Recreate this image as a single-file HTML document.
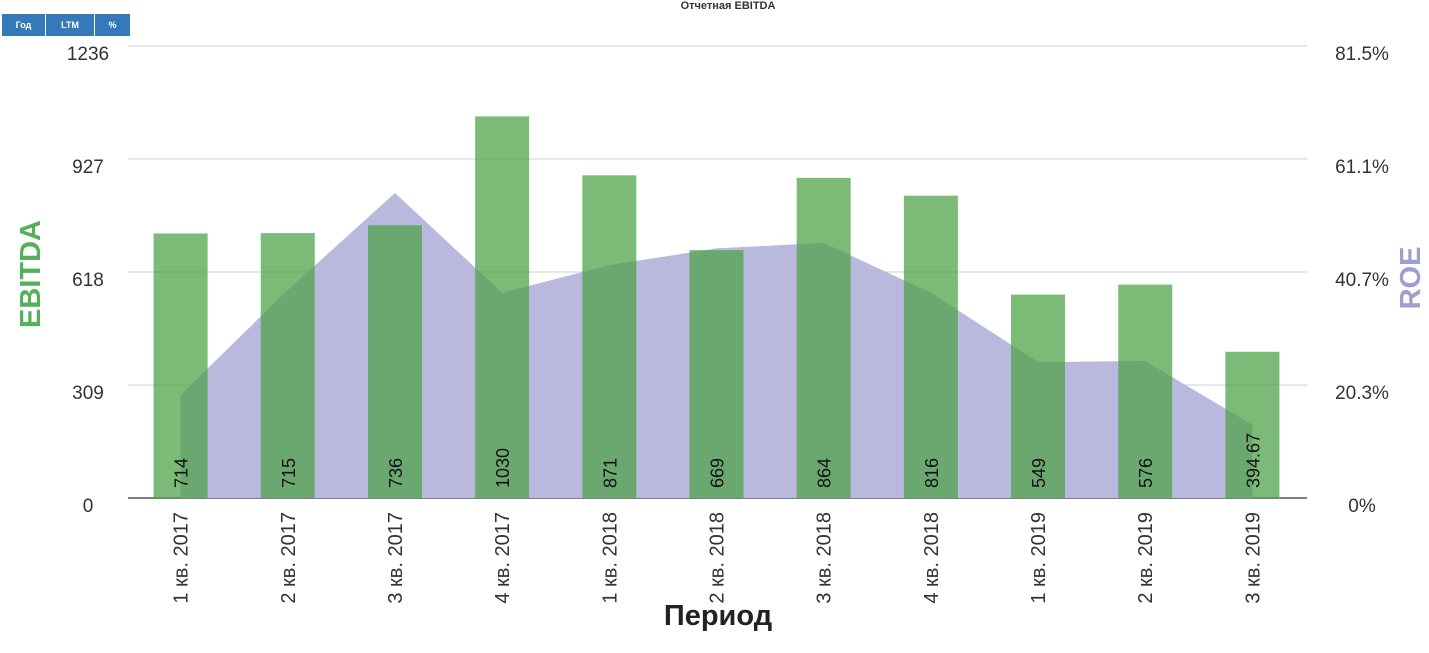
<!DOCTYPE html>
<html><head><meta charset="utf-8">
<style>
body{margin:0;background:#fff;width:1429px;height:653px;overflow:hidden;font-family:"Liberation Sans","Noto Sans CJK SC",sans-serif}
.btns{position:absolute;left:2px;top:14px;display:flex}
.btn{background:#3579b8;color:#fff;font-size:9px;font-weight:bold;height:22px;line-height:22px;text-align:center;border-right:1px solid #fff}
</style></head><body>
<div class="btns">
<div class="btn" style="width:43px">Год</div>
<div class="btn" style="width:48px">LTM</div>
<div class="btn" style="width:35px;border:none">%</div>
</div>
<svg id="c" width="1429" height="653" style="position:absolute;left:0;top:0"></svg>
<script>
const categories=["1 кв. 2017","2 кв. 2017","3 кв. 2017","4 кв. 2017","1 кв. 2018","2 кв. 2018","3 кв. 2018","4 кв. 2018","1 кв. 2019","2 кв. 2019","3 кв. 2019"];
const ebitda=[714,715,736,1030,871,669,864,816,549,576,394.67];
const ebitdaLabels=["714","715","736","1030","871","669","864","816","549","576","394.67"];
const roe=[18.6,37.5,55,37,42,45,46,37,24.5,24.7,13.2];
const leftTicks=["0","309","618","927","1236"];
const rightTicks=["0%","20.3%","40.7%","61.1%","81.5%"];
const svg=document.getElementById('c');const NS="http://www.w3.org/2000/svg";
const X0=128,X1=1307,Y0=498,Y1=46;
const step=(X1-X0)/categories.length;
const xs=i=>X0+step*(i+0.5)-1;
const yL=v=>Y0-(v/1220)*(Y0-Y1);
const yR=v=>Y0-(v/81.5)*(Y0-Y1);
function mk(t,a,p){const e=document.createElementNS(NS,t);for(const k in a)e.setAttribute(k,a[k]);(p||svg).appendChild(e);return e;}
let tt=mk('text',{x:728,y:9,'text-anchor':'middle','font-size':11,'font-weight':'bold',fill:'#333'});tt.textContent="Отчетная EBITDA";


for(let i=0;i<5;i++){const y=Y0-i*(Y0-Y1)/4;
 let g=mk('line',{x1:X0,x2:X1,y1:y,y2:y,stroke:i==0?'#555':'#d0d0d0','stroke-width':i==0?1.5:1});
 
 
 let l=mk('text',{x:88,y:y+14,'text-anchor':'middle','font-size':19,fill:'#333'});l.textContent=leftTicks[i];
 
 
 let r=mk('text',{x:1362,y:y+14,'text-anchor':'middle','font-size':19,fill:'#333'});r.textContent=rightTicks[i];
 
 }
let d="M"+xs(0)+","+Y0;roe.forEach((v,i)=>d+=" L"+xs(i)+","+yR(v));d+=" L"+xs(roe.length-1)+","+Y0+"Z";
let ar=mk('path',{d:d,fill:'#b9b9dd'});


ebitda.forEach((v,i)=>{
 let b=mk('rect',{x:xs(i)-27,y:yL(v),width:54,height:Y0-yL(v),fill:'#50a34b','fill-opacity':0.75});
 
 
 let t=mk('text',{transform:`translate(${xs(i)+7},488) rotate(-90)`,'font-size':18,fill:'#111'});t.textContent=ebitdaLabels[i];
 
 
 let c=mk('text',{transform:`translate(${xs(i)+7},512) rotate(-90)`,'text-anchor':'end','font-size':20,fill:'#333'});c.textContent=categories[i];
 
 
});
let a1=mk('text',{transform:'translate(40,274) rotate(-90)','text-anchor':'middle','font-size':29,'font-weight':'bold',fill:'#55b05a'});a1.textContent="EBITDA";


let a2=mk('text',{transform:'translate(1420,278) rotate(-90)','text-anchor':'middle','font-size':29,'font-weight':'bold',fill:'#9e9ed0'});a2.textContent="ROE";


let a3=mk('text',{x:718,y:625,'text-anchor':'middle','font-size':29,'font-weight':'bold',fill:'#222'});a3.textContent="Период";


</script>
</body></html>
